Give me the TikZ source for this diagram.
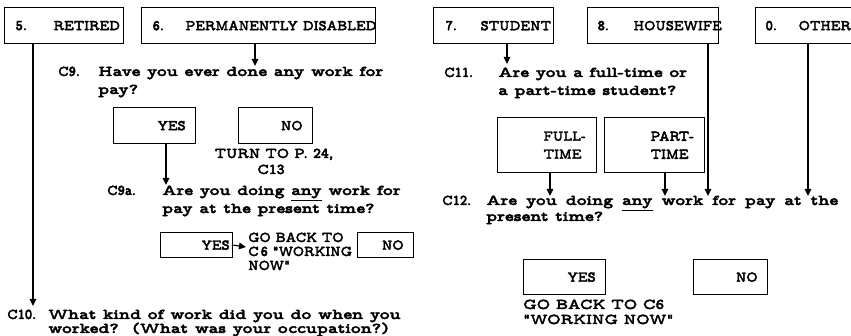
\documentclass[tikz,border=0pt]{standalone}
\usepackage{fontspec}
\newfontfamily\twc[FakeBold=2.5,FakeStretch=0.92]{lmmonoproplt10-bold.otf}
\newfontfamily\twt[FakeBold=2.5]{lmmonoproplt10-bold.otf}
\newfontfamily\twg[FakeBold=2.5,FakeStretch=1.1]{lmmonoproplt10-bold.otf}
\newfontfamily\twl[FakeBold=2.5,FakeStretch=1.26]{lmmonoproplt10-bold.otf}
\usetikzlibrary{arrows.meta}
\begin{document}
\begin{tikzpicture}[x=1pt,y=-1pt,
  cf/.style={font=\twc\fontsize{15}{18}\selectfont},
  tf/.style={font=\twt\fontsize{15}{18}\selectfont},
  gf/.style={font=\twg\fontsize{15}{18}\selectfont},
  lf/.style={font=\twl\fontsize{15}{18}\selectfont},
  bx/.style={draw, line width=1.3pt, inner ysep=0pt, anchor=north west, cf},
  lab/.style={anchor=base west, inner sep=0pt, cf},
  txt/.style={anchor=base west, inner sep=0pt, lf},
  gtxt/.style={anchor=base west, inner sep=0pt, gf},
  ctxt/.style={anchor=base, inner sep=0pt, tf},
  arr/.style={line width=1.4pt, -{Triangle[length=7pt,width=6.5pt]}},
]
\useasboundingbox (0,0) rectangle (851,336);
\clip (0,0) rectangle (851,336);

% top row boxes
\node[bx, text width=97pt, inner xsep=11pt, minimum height=36pt, align=left] (b5) at (4,7) {\mbox{\makebox[38pt][l]{5.}RETIRED}};
\node[bx, text width=212pt, inner xsep=11pt, minimum height=36pt, align=left] (b6) at (141,7) {\mbox{\makebox[33pt][l]{6.}PERMANENTLY DISABLED}};
\node[bx, text width=96pt, inner xsep=12pt, minimum height=36pt, align=left] (b7) at (433,7) {\mbox{\makebox[35pt][l]{7.}STUDENT}};
\node[bx, text width=111pt, inner xsep=10pt, minimum height=36pt, align=left] (b8) at (587,7) {\mbox{\makebox[36pt][l]{8.}HOUSEWIFE}};
\node[bx, text width=100pt, inner xsep=10pt, minimum height=36pt, align=left] (b0) at (755,7) {\mbox{\makebox[33pt][l]{0.}OTHER}};

% left column
\node[lab] (c9) at (58,76) {C9.};
\node[txt] (q9a) at (98,76) {Have you ever done any work for};
\node[txt] (q9b) at (98,94) {pay?};
\coordinate (t9) at (255,66);
\draw[arr] (b6.south -| t9) -- (t9);

\node[bx, text width=62pt, inner xsep=10pt, minimum height=36pt, align=right] (yes1) at (113,107) {YES};
\node[bx, text width=54pt, inner xsep=10pt, minimum height=36pt, align=right] (no1) at (238,107) {NO};
\node[ctxt] (turn1) at (274,158) {TURN TO P. 24,};
\node[ctxt] (turn2) at (271,174) {C13};

\coordinate (t9a) at (166,185);
\draw[arr] (yes1.south -| t9a) -- (t9a);
\node[lab] (c9a) at (107,195) {C9a.};
\node[txt] (q9aa) at (162,195) {Are you doing \underline{any} work for};
\node[txt] (q9ab) at (162,213) {pay at the present time?};

\node[bx, text width=66pt, inner xsep=3pt, minimum height=25pt, align=right] (yes2) at (160,232) {YES};
\node[bx, text width=36pt, inner xsep=10pt, minimum height=25pt, align=right] (no2) at (357,232) {NO};
\coordinate (g1) at (246,247);
\draw[arr, line width=1.2pt] (yes2.east) -- (g1);
\node[lab] (go1) at (248,242) {GO BACK TO};
\node[lab] (go2) at (248,256) {C\kern2pt6 "WORKING};
\node[lab] (go3) at (248,270) {NOW"};

\coordinate (t10) at (33,306);
\draw[arr] (b5.south -| t10) -- (t10);
\node[lab] (c10) at (7,319) {C10.};
\node[txt] (q10a) at (48,319) {What kind of work did you do when you};
\node[txt] (q10b) at (48,333) {worked?\hspace{0.9em}(What was your occupation?)};

% right column
\coordinate (t11) at (507,64);
\draw[arr] (b7.south -| t11) -- (t11);
\node[lab] (c11) at (444,77) {C11.};
\node[txt] (q11a) at (498,77) {Are you a full-time or};
\node[txt] (q11b) at (498,95) {a part-time student?};

\node[bx, text width=99pt, inner xsep=0pt, minimum height=55pt, align=left] (full) at (497,117) {\hspace*{46pt}FULL-\\\hspace*{46pt}TIME};
\node[bx, text width=100pt, inner xsep=0pt, minimum height=55pt, align=left] (part) at (604,117) {\hspace*{46pt}PART-\\\hspace*{46pt}TIME};

\coordinate (tf) at (550,196);
\coordinate (tp) at (665,196);
\coordinate (th) at (708,196);
\coordinate (to) at (808,196);
\draw[arr] (full.south -| tf) -- (tf);
\draw[arr] (part.south -| tp) -- (tp);
\draw[arr] (b8.south -| th) -- (th);
\draw[arr] (b0.south -| to) -- (to);

\node[lab] (c12) at (442,205) {C12.};
\node[txt] (q12a) at (486,205) {\makebox[352pt][s]{Are you doing \underline{any} work for pay at the}};
\node[txt] (q12b) at (486,221) {present time?};

\node[bx, text width=62pt, inner xsep=10pt, minimum height=35pt, align=right] (yes3) at (523,259) {YES};
\node[bx, text width=54pt, inner xsep=10pt, minimum height=35pt, align=right] (no3) at (693,259) {NO};
\node[gtxt] (gb1) at (523,309) {GO BACK TO C6};
\node[gtxt] (gb2) at (523,324) {"WORKING NOW"};
\end{tikzpicture}
\end{document}
